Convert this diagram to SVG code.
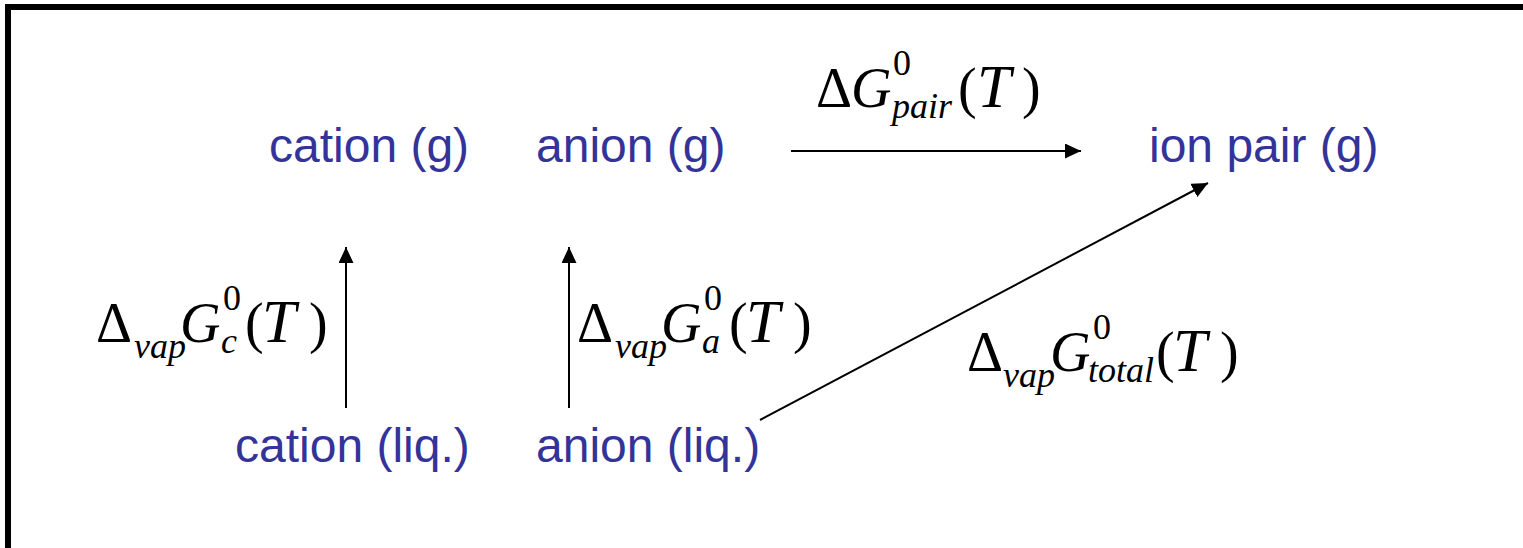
<svg xmlns="http://www.w3.org/2000/svg" width="1523" height="548" viewBox="0 0 1523 548">
<style>
.lbl{font-family:"Liberation Sans",Arial,sans-serif;font-size:48px;fill:#333399}
.m{font-family:"Liberation Serif","Times New Roman",serif;font-size:56px;fill:#000}
.i{font-style:italic}
.s{font-size:36px}
.t{font-size:61px}
.c{stroke:#000;stroke-width:2;fill:none;marker-end:url(#ah)}
</style>
<defs>
<marker id="ah" markerWidth="16" markerHeight="15" refX="16" refY="7.5" orient="auto" markerUnits="userSpaceOnUse">
<path d="M0,0 L16,7.5 L0,15 Z" fill="#000"/>
</marker>
</defs>
<rect x="0" y="0" width="1523" height="548" fill="#fff"/>
<rect x="8" y="7" width="1530" height="560" fill="none" stroke="#000" stroke-width="6"/>
<g id="connectors">
<line class="c" x1="346" y1="408" x2="346" y2="247"/>
<line class="c" x1="569" y1="408" x2="569" y2="247"/>
<line class="c" x1="791" y1="151" x2="1081" y2="151"/>
<line class="c" x1="760" y1="420" x2="1208" y2="183"/>
</g>
<g id="cation-g"><text class="lbl" x="269" y="162">cation (g)</text></g>
<g id="anion-g"><text class="lbl" x="536" y="162">anion (g)</text></g>
<g id="ion-pair-g"><text class="lbl" x="1149" y="162">ion pair (g)</text></g>
<g id="cation-liq"><text class="lbl" x="235" y="462">cation (liq.)</text></g>
<g id="anion-liq"><text class="lbl" x="536" y="462">anion (liq.)</text></g>
<g id="label-pair"><text class="m"><tspan x="816" y="107">Δ</tspan><tspan class="i" x="851" y="107">G</tspan><tspan class="s" x="893" y="75">0</tspan><tspan class="s i" x="892" y="118">pair</tspan><tspan x="958" y="107">(</tspan><tspan class="i t" x="977" y="107">T</tspan><tspan x="1022" y="107">)</tspan></text></g>
<g id="label-c"><text class="m"><tspan x="96" y="342">Δ</tspan><tspan class="s i" x="134" y="358">vap</tspan><tspan class="i" x="180" y="342">G</tspan><tspan class="s" x="223" y="310">0</tspan><tspan class="s i" x="221" y="353">c</tspan><tspan x="245" y="342">(</tspan><tspan class="i t" x="262" y="342">T</tspan><tspan x="309" y="342">)</tspan></text></g>
<g id="label-a"><text class="m"><tspan x="577" y="342">Δ</tspan><tspan class="s i" x="615" y="358">vap</tspan><tspan class="i" x="661" y="342">G</tspan><tspan class="s" x="704" y="310">0</tspan><tspan class="s i" x="702" y="353">a</tspan><tspan x="729" y="342">(</tspan><tspan class="i t" x="746" y="342">T</tspan><tspan x="793" y="342">)</tspan></text></g>
<g id="label-total"><text class="m"><tspan x="967" y="371">Δ</tspan><tspan class="s i" x="1003" y="387">vap</tspan><tspan class="i" x="1050" y="371">G</tspan><tspan class="s" x="1093" y="339">0</tspan><tspan class="s i" x="1088" y="382">total</tspan><tspan x="1156" y="371">(</tspan><tspan class="i t" x="1173" y="371">T</tspan><tspan x="1220" y="371">)</tspan></text></g>
</svg>
